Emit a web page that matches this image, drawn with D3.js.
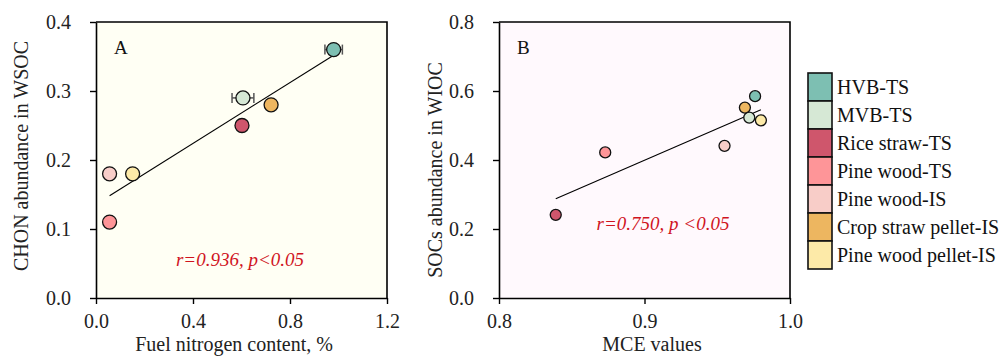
<!DOCTYPE html>
<html>
<head>
<meta charset="utf-8">
<script src="https://cdn.jsdelivr.net/npm/d3@7"></script>
<style>
  html, body { margin: 0; padding: 0; background: #fff; }
  svg { display: block; font-family: 'Times New Roman', 'Liberation Serif', serif; }
</style>
</head>
<body>
<div class="container"></div>
<script>
// sample groups (shared by both panels and the legend)
const groups = ['HVB-TS', 'MVB-TS', 'Rice straw-TS', 'Pine wood-TS', 'Pine wood-IS', 'Crop straw pellet-IS', 'Pine wood pellet-IS']
const groupColors = ['#7dbfb2', '#d6e8d5', '#cf566c', '#fe9598', '#f8cdc8', '#edb660', '#fdeaa8']

// panel A: fuel N content vs CHON abundance in WSOC
const fuelN = [0.98, 0.606, 0.602, 0.056, 0.056, 0.722, 0.151]
const fuelNErr = [0.036, 0.045, 0, 0, 0, 0, 0]
const chonWsoc = [0.36, 0.29, 0.25, 0.11, 0.18, 0.28, 0.18]
const ticksA_x = [0, 0.4, 0.8, 1.2]
const ticksA_y = [0, 0.1, 0.2, 0.3, 0.4]

// panel B: MCE vs SOCs abundance in WIOC
const mce = [0.976, 0.972, 0.839, 0.873, 0.955, 0.969, 0.98]
const socsWioc = [0.585, 0.523, 0.241, 0.422, 0.441, 0.552, 0.515]
const ticksB_x = [0.8, 0.9, 1.0]
const ticksB_y = [0, 0.2, 0.4, 0.6, 0.8]

const W = 1005
const H = 356
const fmt = d3.format('.1f')

const svg = d3.select('.container').append('svg').attr('width', W).attr('height', H)

function fitLine(xs, ys) {
  const mx = d3.mean(xs)
  const my = d3.mean(ys)
  const sxy = d3.sum(xs, (x, i) => (x - mx) * (ys[i] - my))
  const sxx = d3.sum(xs, (x) => (x - mx) * (x - mx))
  const b = sxy / sxx
  const a = my - b * mx
  const x0 = d3.min(xs)
  const x1 = d3.max(xs)
  return [[x0, a + b * x0], [x1, a + b * x1]]
}

function panel(opt) {
  const x = d3.scaleLinear().domain(opt.xDomain).range([opt.left, opt.right])
  const y = d3.scaleLinear().domain(opt.yDomain).range([opt.bottom, opt.top])
  const g = svg.append('g')

  g.append('rect')
    .attr('x', opt.left).attr('y', opt.top)
    .attr('width', opt.right - opt.left).attr('height', opt.bottom - opt.top)
    .attr('fill', opt.bg)

  const xAxis = g.append('g')
    .attr('transform', `translate(0,${opt.bottom})`)
    .call(d3.axisBottom(x).tickValues(opt.xTicks).tickFormat(fmt).tickSize(6).tickSizeOuter(0).tickPadding(10))
  const yAxis = g.append('g')
    .attr('transform', `translate(${opt.left},0)`)
    .call(d3.axisLeft(y).tickValues(opt.yTicks).tickFormat(fmt).tickSize(6).tickSizeOuter(0).tickPadding(19))

  ;[xAxis, yAxis].forEach((a) => {
    a.select('.domain').attr('stroke', '#000').attr('stroke-width', 1.6)
    a.selectAll('.tick line').attr('stroke', '#000').attr('stroke-width', 1.4)
    a.selectAll('.tick text')
      .attr('fill', '#222')
      .style('font-size', '20px')
      .style('font-family', "'Times New Roman', 'Liberation Serif', serif")
  })

  // top and right frame
  g.append('path')
    .attr('d', `M${opt.left},${opt.top}H${opt.right}V${opt.bottom}`)
    .attr('fill', 'none').attr('stroke', '#000').attr('stroke-width', 1.6)

  // regression line
  const ln = fitLine(opt.xs, opt.ys)
  g.append('line')
    .attr('x1', x(ln[0][0])).attr('y1', y(ln[0][1]))
    .attr('x2', x(ln[1][0])).attr('y2', y(ln[1][1]))
    .attr('stroke', '#000').attr('stroke-width', 1.1)

  // horizontal error bars
  if (opt.xErr) {
    opt.xs.forEach((v, i) => {
      const e = opt.xErr[i]
      if (!e) return
      const cy = y(opt.ys[i])
      const eb = g.append('g').attr('stroke', '#555').attr('stroke-width', 1.5)
      eb.append('line').attr('x1', x(v - e)).attr('x2', x(v + e)).attr('y1', cy).attr('y2', cy)
      eb.append('line').attr('x1', x(v - e)).attr('x2', x(v - e)).attr('y1', cy - 5).attr('y2', cy + 5)
      eb.append('line').attr('x1', x(v + e)).attr('x2', x(v + e)).attr('y1', cy - 5).attr('y2', cy + 5)
    })
  }

  g.selectAll('circle.pt')
    .data(opt.xs.map((v, i) => ({ x: v, y: opt.ys[i], c: groupColors[i] })))
    .enter()
    .append('circle')
    .attr('class', 'pt')
    .attr('cx', (d) => x(d.x))
    .attr('cy', (d) => y(d.y))
    .attr('r', opt.r)
    .attr('fill', (d) => d.c)
    .attr('stroke', '#111')
    .attr('stroke-width', 1.3)

  g.append('text')
    .attr('x', opt.left + 18).attr('y', opt.top + 32)
    .attr('font-size', '19px').attr('fill', '#111')
    .text(opt.label)

  g.append('text')
    .attr('x', opt.statX).attr('y', opt.statY)
    .attr('text-anchor', 'middle')
    .attr('font-size', '19px').attr('font-style', 'italic')
    .attr('fill', '#d0141e')
    .text(opt.stat)

  g.append('text')
    .attr('x', opt.xTitleX).attr('y', 351)
    .attr('text-anchor', 'middle')
    .attr('font-size', '20px').attr('fill', '#222')
    .text(opt.xTitle)

  g.append('text')
    .attr('transform', `translate(${opt.yTitleX},${opt.yTitleY}) rotate(-90)`)
    .attr('text-anchor', 'middle')
    .attr('font-size', '20px').attr('fill', '#222')
    .text(opt.yTitle)
}

panel({
  left: 96, right: 387, top: 22, bottom: 298,
  xDomain: [0, 1.2], yDomain: [0, 0.4],
  xTicks: ticksA_x, yTicks: ticksA_y,
  bg: '#fffff4',
  xs: fuelN, ys: chonWsoc, xErr: fuelNErr, r: 7,
  label: 'A',
  stat: 'r=0.936, p<0.05', statX: 240, statY: 266,
  xTitle: 'Fuel nitrogen content, %', xTitleX: 234,
  yTitle: 'CHON abundance in WSOC', yTitleX: 28, yTitleY: 156
})

panel({
  left: 499, right: 790, top: 22, bottom: 298,
  xDomain: [0.8, 1.0], yDomain: [0, 0.8],
  xTicks: ticksB_x, yTicks: ticksB_y,
  bg: '#fff9fd',
  xs: mce, ys: socsWioc, xErr: null, r: 5.5,
  label: 'B',
  stat: 'r=0.750, p <0.05', statX: 663, statY: 230,
  xTitle: 'MCE values', xTitleX: 652,
  yTitle: 'SOCs abundance in WIOC', yTitleX: 442, yTitleY: 170
})

// legend
const legend = svg.append('g').attr('transform', 'translate(808,73)')
const itemH = 28
const items = legend.selectAll('g')
  .data(groups)
  .enter()
  .append('g')
  .attr('transform', (d, i) => `translate(0,${i * itemH})`)
items.append('rect')
  .attr('width', 24).attr('height', itemH)
  .attr('fill', (d, i) => groupColors[i])
  .attr('stroke', '#111').attr('stroke-width', 1.6)
items.append('text')
  .attr('x', 29).attr('y', 21)
  .attr('font-size', '20px').attr('fill', '#111')
  .text((d) => d)
</script>
</body>
</html>
